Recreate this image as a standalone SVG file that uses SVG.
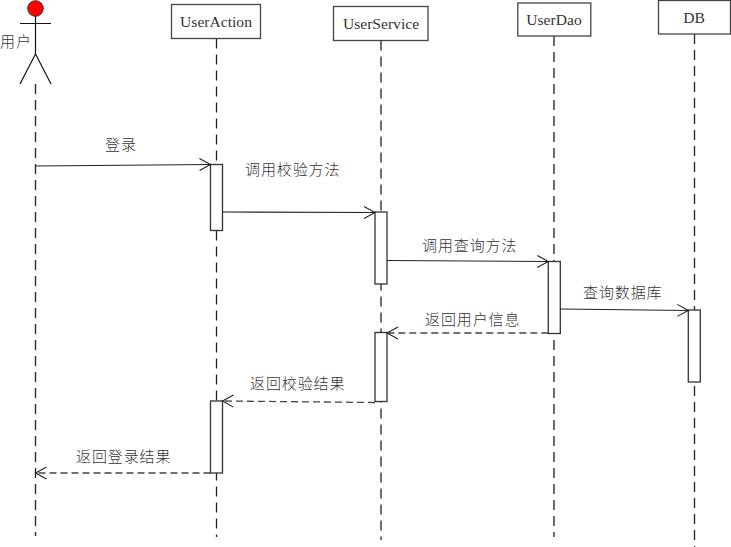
<svg xmlns="http://www.w3.org/2000/svg" width="731" height="547" viewBox="0 0 731 547">
<style>
.box{fill:#fff;stroke:#444;stroke-width:1.3}
.act{fill:#fff;stroke:#333;stroke-width:1.3}
.life{fill:none;stroke:#222;stroke-width:1.3;stroke-dasharray:10 6}
.msg{fill:none;stroke:#222;stroke-width:1.2}
.ret{fill:none;stroke:#444;stroke-width:1.3;stroke-dasharray:7 4}
.fig{fill:none;stroke:#111;stroke-width:1.2}
.name{font-family:"Liberation Serif",serif;font-size:15.6px;fill:#333;text-anchor:middle}
.cjk{font-family:"Noto Sans CJK SC",sans-serif;font-size:15px;fill:#333;font-weight:300;letter-spacing:.9px}
</style>
<defs>
<marker id="open" markerUnits="userSpaceOnUse" markerWidth="14" markerHeight="14" refX="11" refY="6" orient="auto" overflow="visible"><path d="M0 0L11 6L0 12" fill="none" stroke="#222" stroke-width="1.1"/></marker>
</defs>
<g id="lifelines">
<path class="life" d="M35.5 84V536"/>
<path class="life" d="M216.5 38.500V537"/>
<path class="life" d="M381 40.500V540"/>
<path class="life" d="M554 36V537"/>
<path class="life" d="M694.500 34V547"/>
</g>
<g id="actor-user">
<path class="fig" d="M35.500 16V54M20 23.500H51M20 84L35.500 54L51 84"/>
<circle cx="35.500" cy="8.500" r="7.800" fill="#f00" stroke="#333" stroke-width="1"/>
<text class="cjk" x="0" y="47">用户</text>
</g>
<g id="node-useraction"><rect class="box" x="171.500" y="4.500" width="89" height="34"/><text class="name" x="216" y="26.500">UserAction</text></g>
<g id="node-userservice"><rect class="box" x="333.500" y="6.500" width="94.500" height="34"/><text class="name" x="381" y="28.500">UserService</text></g>
<g id="node-userdao"><rect class="box" x="517.800" y="3" width="73" height="33"/><text class="name" x="554" y="25">UserDao</text></g>
<g id="node-db"><rect class="box" x="658.500" y="0.500" width="72" height="33.500"/><text class="name" x="694" y="23">DB</text></g>
<g id="activations">
<rect class="act" x="210.500" y="164.500" width="12" height="66"/>
<rect class="act" x="375" y="212" width="12" height="72"/>
<rect class="act" x="548.300" y="261.500" width="12" height="72"/>
<rect class="act" x="688.300" y="310" width="12" height="72"/>
<rect class="act" x="375" y="332.500" width="12" height="69"/>
<rect class="act" x="210.500" y="401" width="12" height="72"/>
</g>
<g id="connectors">
<path class="msg" marker-end="url(#open)" d="M35.500 166L210.500 164.500"/>
<path class="msg" marker-end="url(#open)" d="M222.500 212L375 212.500"/>
<path class="msg" marker-end="url(#open)" d="M387 260.500L548.300 261.500"/>
<path class="msg" marker-end="url(#open)" d="M560.300 309L688.300 310.500"/>
<path class="ret" marker-end="url(#open)" d="M548.300 333L387 333"/>
<path class="ret" marker-end="url(#open)" d="M375 402.500L222.500 401"/>
<path class="ret" marker-end="url(#open)" d="M210.500 473L35.500 473"/>
</g>
<g id="labels">
<text class="cjk" x="105" y="150">登录</text>
<text class="cjk" x="245" y="175">调用校验方法</text>
<text class="cjk" x="422" y="250.500">调用查询方法</text>
<text class="cjk" x="583" y="298">查询数据库</text>
<text class="cjk" x="425" y="324.500">返回用户信息</text>
<text class="cjk" x="250" y="389">返回校验结果</text>
<text class="cjk" x="76" y="462">返回登录结果</text>
</g>
</svg>
